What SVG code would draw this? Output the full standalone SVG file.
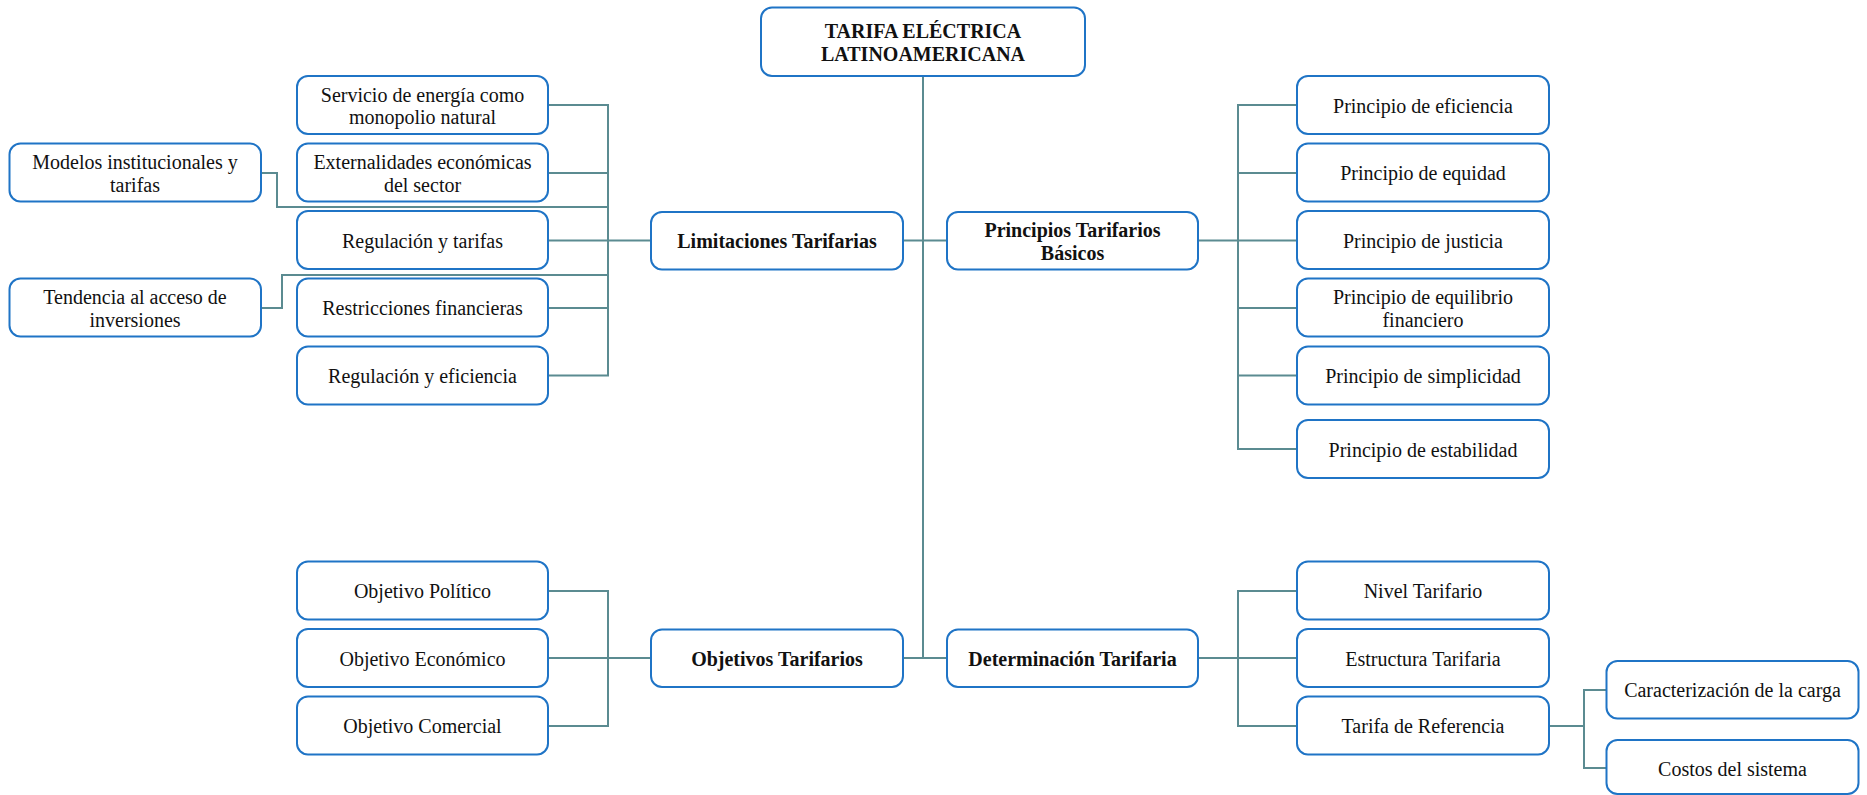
<svg xmlns="http://www.w3.org/2000/svg" width="1867" height="795" viewBox="0 0 1867 795">
  <style>
    .box { fill: #ffffff; stroke: #1f74c6; stroke-width: 2; }
    .conn { fill: none; stroke: #5b8b91; stroke-width: 2; }
    text { font-family: "Liberation Serif", "Times New Roman", serif; font-size: 20px; fill: #111111; text-anchor: middle; }
    .b { font-weight: bold; }
  </style>
  <rect width="1867" height="795" fill="#ffffff"/>

  <!-- connectors -->
  <g id="connectors" class="conn">
    <!-- trunk -->
    <path d="M923 76 V658"/>
    <path d="M903 240.5 H947"/>
    <path d="M903 658 H947"/>
    <!-- Limitaciones branch -->
    <path d="M548 105 H608 V375.5 H548"/>
    <path d="M548 173 H608"/>
    <path d="M548 240.5 H651"/>
    <path d="M548 308 H608"/>
    <path d="M261 173 H277 V207 H608"/>
    <path d="M261 308 H282 V275 H608"/>
    <!-- Principios branch -->
    <path d="M1549 105 H1238 V449 H1297"/>
    <path d="M1238 173 H1297"/>
    <path d="M1198 240.5 H1297"/>
    <path d="M1238 308 H1297"/>
    <path d="M1238 375.5 H1297"/>
    <!-- Objetivos branch -->
    <path d="M548 591 H608 V726 H548"/>
    <path d="M548 658 H651"/>
    <!-- Determinacion branch -->
    <path d="M1297 591 H1238 V726 H1297"/>
    <path d="M1198 658 H1297"/>
    <path d="M1549 726 H1584"/>
    <path d="M1606 690 H1584 V768 H1606"/>
  </g>

  <!-- root -->
  <g id="root">
    <rect class="box" x="761" y="7.5" width="324" height="68.5" rx="11"/>
    <text class="b" x="923" y="38">TARIFA ELÉCTRICA</text>
    <text class="b" x="923" y="61">LATINOAMERICANA</text>
  </g>

  <!-- main categories -->
  <g id="limitaciones">
    <rect class="box" x="651" y="212" width="252" height="57.5" rx="11"/>
    <text class="b" x="777" y="248">Limitaciones Tarifarias</text>
  </g>
  <g id="principios">
    <rect class="box" x="947" y="212" width="251" height="57.5" rx="11"/>
    <text class="b" x="1072.5" y="237">Principios Tarifarios</text>
    <text class="b" x="1072.5" y="259.5">Básicos</text>
  </g>
  <g id="objetivos">
    <rect class="box" x="651" y="629.5" width="252" height="57.5" rx="11"/>
    <text class="b" x="777" y="665.5">Objetivos Tarifarios</text>
  </g>
  <g id="determinacion">
    <rect class="box" x="947" y="629.5" width="251" height="57.5" rx="11"/>
    <text class="b" x="1072.5" y="665.5">Determinación Tarifaria</text>
  </g>

  <!-- Limitaciones children -->
  <g id="servicio">
    <rect class="box" x="297" y="76" width="251" height="58" rx="11"/>
    <text x="422.5" y="101.5">Servicio de energía como</text>
    <text x="422.5" y="124">monopolio natural</text>
  </g>
  <g id="externalidades">
    <rect class="box" x="297" y="143.5" width="251" height="58" rx="11"/>
    <text x="422.5" y="169">Externalidades económicas</text>
    <text x="422.5" y="191.5">del sector</text>
  </g>
  <g id="regulacion-tarifas">
    <rect class="box" x="297" y="211" width="251" height="58" rx="11"/>
    <text x="422.5" y="247.5">Regulación y tarifas</text>
  </g>
  <g id="restricciones">
    <rect class="box" x="297" y="278.5" width="251" height="58" rx="11"/>
    <text x="422.5" y="315">Restricciones financieras</text>
  </g>
  <g id="regulacion-eficiencia">
    <rect class="box" x="297" y="346.5" width="251" height="58" rx="11"/>
    <text x="422.5" y="383">Regulación y eficiencia</text>
  </g>
  <g id="modelos">
    <rect class="box" x="9.5" y="143.5" width="251.5" height="58" rx="11"/>
    <text x="135" y="169">Modelos institucionales y</text>
    <text x="135" y="191.5">tarifas</text>
  </g>
  <g id="tendencia">
    <rect class="box" x="9.5" y="278.5" width="251.5" height="58" rx="11"/>
    <text x="135" y="304">Tendencia al acceso de</text>
    <text x="135" y="326.5">inversiones</text>
  </g>

  <!-- Principios children -->
  <g id="p-eficiencia">
    <rect class="box" x="1297" y="76" width="252" height="58" rx="11"/>
    <text x="1423" y="112.5">Principio de eficiencia</text>
  </g>
  <g id="p-equidad">
    <rect class="box" x="1297" y="143.5" width="252" height="58" rx="11"/>
    <text x="1423" y="180">Principio de equidad</text>
  </g>
  <g id="p-justicia">
    <rect class="box" x="1297" y="211" width="252" height="58" rx="11"/>
    <text x="1423" y="247.5">Principio de justicia</text>
  </g>
  <g id="p-equilibrio">
    <rect class="box" x="1297" y="278.5" width="252" height="58" rx="11"/>
    <text x="1423" y="304">Principio de equilibrio</text>
    <text x="1423" y="326.5">financiero</text>
  </g>
  <g id="p-simplicidad">
    <rect class="box" x="1297" y="346.5" width="252" height="58" rx="11"/>
    <text x="1423" y="383">Principio de simplicidad</text>
  </g>
  <g id="p-estabilidad">
    <rect class="box" x="1297" y="420" width="252" height="58" rx="11"/>
    <text x="1423" y="456.5">Principio de estabilidad</text>
  </g>

  <!-- Objetivos children -->
  <g id="o-politico">
    <rect class="box" x="297" y="561.5" width="251" height="58" rx="11"/>
    <text x="422.5" y="598">Objetivo Político</text>
  </g>
  <g id="o-economico">
    <rect class="box" x="297" y="629" width="251" height="58" rx="11"/>
    <text x="422.5" y="665.5">Objetivo Económico</text>
  </g>
  <g id="o-comercial">
    <rect class="box" x="297" y="696.5" width="251" height="58" rx="11"/>
    <text x="422.5" y="733">Objetivo Comercial</text>
  </g>

  <!-- Determinacion children -->
  <g id="nivel">
    <rect class="box" x="1297" y="561.5" width="252" height="58" rx="11"/>
    <text x="1423" y="598">Nivel Tarifario</text>
  </g>
  <g id="estructura">
    <rect class="box" x="1297" y="629" width="252" height="58" rx="11"/>
    <text x="1423" y="665.5">Estructura Tarifaria</text>
  </g>
  <g id="referencia">
    <rect class="box" x="1297" y="696.5" width="252" height="58" rx="11"/>
    <text x="1423" y="733">Tarifa de Referencia</text>
  </g>
  <g id="caracterizacion">
    <rect class="box" x="1606.5" y="661" width="252" height="57.5" rx="11"/>
    <text x="1732.5" y="697">Caracterización de la carga</text>
  </g>
  <g id="costos">
    <rect class="box" x="1606.5" y="740" width="252" height="54" rx="11"/>
    <text x="1732.5" y="776">Costos del sistema</text>
  </g>
</svg>
